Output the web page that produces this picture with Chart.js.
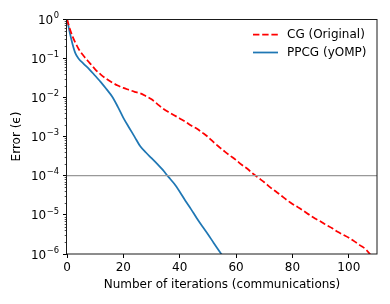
<!DOCTYPE html>
<html>
<head>
<meta charset="utf-8">
<script src="https://cdn.jsdelivr.net/npm/chart.js@4.4.0/dist/chart.umd.min.js"></script>
<style>
  html, body { margin: 0; padding: 0; background: #fff; }
</style>
</head>
<body>
<canvas id="chart" width="390" height="304"></canvas>
<script>
// iterations
const ppcgIters = [0, 1, 2, 3, 4, 6, 8, 10, 12, 14, 16, 18, 20, 22, 24, 26, 28, 30,
  32, 34, 36, 38, 40, 42, 44, 46, 48, 50, 52, 54, 56];
const ppcgError = [1, 0.447, 0.224, 0.132, 0.1, 0.0708, 0.0513, 0.0355, 0.0245, 0.0162,
  0.0105, 0.0058, 0.0030, 0.0017, 9.8e-4, 5.6e-4, 3.9e-4, 2.8e-4, 2.0e-4, 1.4e-4,
  9.3e-5, 6.3e-5, 3.9e-5, 2.3e-5, 1.4e-5, 8.3e-6, 5.1e-6, 3.2e-6, 1.95e-6, 1.2e-6, 7.4e-7];

const cgIters = [0, 1, 2, 4, 6, 8, 10, 12, 14, 16, 18, 20, 22, 24, 26, 28, 30, 32, 34, 36,
  38, 40, 42, 44, 46, 48, 50, 52, 54, 56, 58, 60, 62, 64, 66, 68, 70, 72, 74, 76, 78, 80,
  82, 84, 86, 88, 90, 92, 94, 96, 98, 100, 102, 104, 106, 108];
const cgError = [1, 0.56, 0.355, 0.178, 0.112, 0.076, 0.052, 0.038, 0.0295, 0.024, 0.020,
  0.0174, 0.0155, 0.0138, 0.0126, 0.0107, 0.0089, 0.0068, 0.0052, 0.0042, 0.0035, 0.0029,
  0.0024, 0.0019, 0.0016, 0.00126, 9.8e-4, 7.2e-4, 5.4e-4, 4.1e-4, 3.2e-4, 2.5e-4, 1.9e-4,
  1.5e-4, 1.12e-4, 8.7e-5, 6.8e-5, 5.1e-5, 4.0e-5, 3.1e-5, 2.4e-5, 1.9e-5, 1.55e-5,
  1.26e-5, 1.0e-5, 8.1e-6, 6.8e-6, 5.5e-6, 4.6e-6, 3.7e-6, 3.1e-6, 2.6e-6, 2.1e-6,
  1.66e-6, 1.32e-6, 8.9e-7];

const threshold = 1e-4;
const xRange = [0, 110];
const xTicks = [0, 20, 40, 60, 80, 100];
const yTicks = [1e-6, 1e-5, 1e-4, 1e-3, 1e-2, 1e-1, 1];
const yTickExps = ['−6', '−5', '−4', '−3', '−2', '−1', '0'];

const FONT = 'DejaVu Sans';
const FS = 12;

const toPoints = (xs, ys) => xs.map((x, i) => ({ x: x, y: ys[i] }));

// box around plot, minor ticks + 10^n labels on the log axis, legend in the corner
const framePlugin = {
  id: 'frame',
  afterDraw(chart) {
    const { ctx, chartArea: a, scales } = chart;
    ctx.save();
    // minor ticks
    ctx.strokeStyle = '#000';
    ctx.lineWidth = 0.7;
    ctx.beginPath();
    for (let d = -6; d < 0; d++) {
      for (let k = 2; k <= 9; k++) {
        const y = Math.round(scales.y.getPixelForValue(k * Math.pow(10, d))) + 0.5;
        ctx.moveTo(a.left - 2.3, y);
        ctx.lineTo(a.left, y);
      }
    }
    ctx.stroke();
    // spines
    ctx.lineWidth = 1;
    ctx.strokeStyle = '#1a1a1a';
    ctx.strokeRect(Math.round(a.left) - 0.5, Math.round(a.top) + 0.5,
      Math.round(a.right - a.left) + 0.5, Math.round(a.bottom - a.top) - 0.5);

    // y tick labels, 10 with a raised exponent
    ctx.fillStyle = '#000';
    ctx.textBaseline = 'middle';
    ctx.textAlign = 'left';
    const right = a.left - 8;
    yTicks.forEach((v, i) => {
      const y = scales.y.getPixelForValue(v);
      ctx.font = '8.4px "' + FONT + '"';
      const ew = ctx.measureText(yTickExps[i]).width;
      ctx.font = FS + 'px "' + FONT + '"';
      const bw = ctx.measureText('10').width;
      const x0 = right - ew - bw - 0.5;
      ctx.fillText('10', x0, y + 1.5);
      ctx.font = '8.4px "' + FONT + '"';
      ctx.fillText(yTickExps[i], x0 + bw + 0.5, y - 3.5);
    });

    // legend
    const items = chart.data.datasets.filter(ds => ds.label);
    ctx.font = FS + 'px "' + FONT + '"';
    items.forEach((ds, i) => {
      const y = 34.5 + i * 18;
      ctx.beginPath();
      ctx.strokeStyle = ds.borderColor;
      ctx.lineWidth = ds.borderWidth;
      ctx.setLineDash(ds.borderDash || []);
      ctx.moveTo(253, y);
      ctx.lineTo(278, y);
      ctx.stroke();
      ctx.setLineDash([]);
      ctx.fillText(ds.label, 287, y);
    });
    ctx.restore();
  }
};

new Chart(document.getElementById('chart'), {
  type: 'line',
  data: {
    datasets: [
      {
        data: toPoints(xRange, [threshold, threshold]),
        borderColor: '#999999',
        borderWidth: 1.2,
        pointRadius: 0,
        clip: 0
      },
      {
        label: 'CG (Original)',
        data: toPoints(cgIters, cgError),
        borderColor: '#ff0000',
        borderWidth: 1.75,
        borderDash: [6.4, 2.8],
        pointRadius: 0,
        cubicInterpolationMode: 'monotone',
        clip: 0
      },
      {
        label: 'PPCG (yOMP)',
        data: toPoints(ppcgIters, ppcgError),
        borderColor: '#1f77b4',
        borderWidth: 1.75,
        pointRadius: 0,
        cubicInterpolationMode: 'monotone',
        clip: 0
      }
    ]
  },
  options: {
    responsive: false,
    animation: false,
    layout: { padding: { top: 19, right: 13, left: 0, bottom: 0 } },
    plugins: {
      legend: { display: false },
      tooltip: { enabled: false }
    },
    scales: {
      x: {
        type: 'linear',
        min: xRange[0],
        max: xRange[1],
        afterBuildTicks: (s) => { s.ticks = xTicks.map(v => ({ value: v })); },
        afterFit: (s) => { s.height = 50; },
        grid: { drawOnChartArea: false, tickLength: 4, tickColor: '#000', tickWidth: 1 },
        border: { display: false },
        ticks: { color: '#000', padding: 3, font: { family: FONT, size: FS }, maxRotation: 0 },
        title: {
          display: true,
          text: 'Number of iterations (communications)',
          color: '#000',
          font: { family: FONT, size: FS },
          padding: { top: 0, bottom: 12 }
        }
      },
      y: {
        type: 'logarithmic',
        min: 1e-6,
        max: 1,
        afterBuildTicks: (s) => { s.ticks = yTicks.map(v => ({ value: v })); },
        afterFit: (s) => { s.width = 67; },
        grid: { drawOnChartArea: false, tickLength: 4, tickColor: '#000', tickWidth: 1 },
        border: { display: false },
        ticks: { display: true, color: 'rgba(0,0,0,0)', font: { family: FONT, size: FS } },
        title: {
          display: true,
          text: 'Error (ϵ)',
          color: '#000',
          font: { family: FONT, size: FS },
          padding: { top: 10, bottom: 0 }
        }
      }
    }
  },
  plugins: [framePlugin]
});
</script>
</body>
</html>
